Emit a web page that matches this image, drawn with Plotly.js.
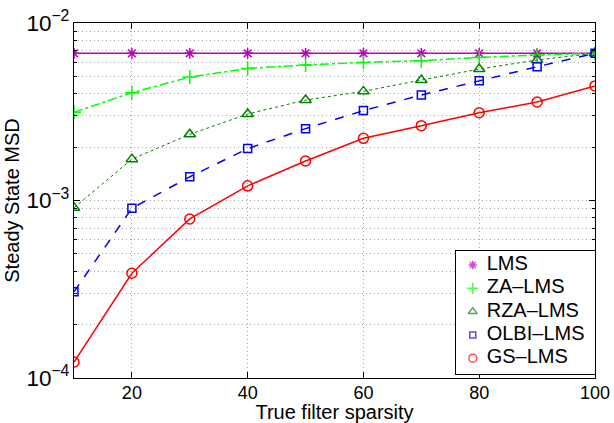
<!DOCTYPE html>
<html>
<head>
<meta charset="utf-8">
<script src="https://cdn.plot.ly/plotly-3.0.1.min.js"></script>
<style>html,body{margin:0;padding:0;background:#fff;}#chart{width:614px;height:423px;}</style>
</head>
<body>
<div id="chart"></div>
<script>
const sparsity = [10, 20, 30, 40, 50, 60, 70, 80, 90, 100];
const lms    = [6.75e-3, 6.75e-3, 6.75e-3, 6.75e-3, 6.75e-3, 6.75e-3, 6.75e-3, 6.75e-3, 6.75e-3, 6.75e-3];
const zaLms  = [3.14e-3, 4.05e-3, 4.96e-3, 5.55e-3, 5.8e-3, 6.0e-3, 6.13e-3, 6.4e-3, 6.6e-3, 6.75e-3];
const rzaLms = [9.1e-4, 1.71e-3, 2.36e-3, 3.07e-3, 3.68e-3, 4.12e-3, 4.77e-3, 5.5e-3, 6.19e-3, 6.75e-3];
const olbiLms= [3.06e-4, 9.04e-4, 1.36e-3, 1.96e-3, 2.54e-3, 3.21e-3, 3.93e-3, 4.73e-3, 5.67e-3, 6.75e-3];
const gsLms  = [1.23e-4, 3.89e-4, 7.87e-4, 1.21e-3, 1.67e-3, 2.24e-3, 2.64e-3, 3.12e-3, 3.59e-3, 4.42e-3];
const names  = ['LMS', 'ZA\u2013LMS', 'RZA\u2013LMS', 'OLBI\u2013LMS', 'GS\u2013LMS'];
const xTicks = [20, 40, 60, 80, 100];

const series = [lms, zaLms, rzaLms, olbiLms, gsLms];
const colors = ['#bf00bf', '#00ff00', '#008000', '#0000ff', '#ff0000'];
const lineDash = ['solid', 'dashdot', 'dot', 'dash', 'solid'];
const lineWidth = [1.5, 1.5, 1, 1.5, 1.5];
const symbols = ['asterisk-open', 'cross-thin-open', 'triangle-up-open', 'square-open', 'circle-open'];
const sizes = [9, 10, 10, 8, 10];

const ff = 'Liberation Sans, Arial, sans-serif';
const traces = [];
series.forEach((s, i) => {
  traces.push({
    x: sparsity, y: s, type: 'scatter', mode: 'lines+markers', showlegend: false,
    xaxis: 'x', yaxis: 'y',
    line: {color: colors[i], dash: lineDash[i], width: lineWidth[i]},
    marker: {symbol: symbols[i], size: sizes[i], color: colors[i], line: {color: colors[i], width: 1.5}},
    name: names[i]
  });
});
// custom legend drawn in an inset subplot (x2/y2), rows spaced like the reference
const rowPitch = 23.3, rowTop = 14, keyX = 17, labelX = 31;
const rows = names.map((_, i) => rowTop + i * rowPitch);
traces.push({
  x: names.map(() => keyX), y: rows, type: 'scatter', mode: 'markers',
  xaxis: 'x2', yaxis: 'y2', showlegend: false, hoverinfo: 'skip',
  marker: {symbol: symbols, size: sizes.map(s => s - 2), color: colors, line: {color: colors, width: 1.5}}
});
traces.push({
  x: names.map(() => labelX), y: rows, type: 'scatter', mode: 'text',
  xaxis: 'x2', yaxis: 'y2', showlegend: false, hoverinfo: 'skip',
  text: names, textposition: 'middle right',
  textfont: {family: ff, size: 20, color: '#000'}
});

const layout = {
  width: 614, height: 423,
  margin: {l: 74, r: 19, t: 23, b: 45},
  paper_bgcolor: '#fff', plot_bgcolor: '#fff',
  font: {family: ff, size: 18, color: '#000'},
  showlegend: false,
  xaxis: {
    range: [10, 100], tickvals: xTicks, ticktext: xTicks.map(String),
    ticks: 'inside', ticklen: 6, tickcolor: '#000', mirror: 'ticks',
    showline: true, linecolor: '#000', linewidth: 1, ticklabelstandoff: -2,
    showgrid: true, gridcolor: '#a8a8a8', griddash: '1px,3px', gridwidth: 1,
    zeroline: false, tickfont: {family: ff, size: 18},
    title: {text: 'True filter sparsity', font: {family: ff, size: 20}, standoff: 2}
  },
  yaxis: {
    type: 'log', range: [-4, -2], dtick: 1, exponentformat: 'power',
    ticks: 'inside', ticklen: 6, tickcolor: '#000', mirror: 'ticks',
    showline: true, linecolor: '#000', linewidth: 1,
    showgrid: true, gridcolor: '#a8a8a8', griddash: '1px,3px', gridwidth: 1,
    minor: {dtick: 'D1', showgrid: true, gridcolor: '#a8a8a8', griddash: '1px,3px', gridwidth: 1,
            ticks: 'inside', ticklen: 3, tickcolor: '#000'},
    zeroline: false, tickfont: {family: ff, size: 18},
    title: {text: 'Steady State MSD', font: {family: ff, size: 20}, standoff: 1}
  },
  xaxis2: {
    domain: [0.733, 1], anchor: 'y2', range: [0, 140], fixedrange: true,
    showline: true, mirror: true, linecolor: '#000', linewidth: 1,
    showgrid: false, zeroline: false, showticklabels: false, ticks: ''
  },
  yaxis2: {
    domain: [0.0113, 0.3577], anchor: 'x2', range: [123, 0], fixedrange: true,
    showline: true, mirror: true, linecolor: '#000', linewidth: 1,
    showgrid: false, zeroline: false, showticklabels: false, ticks: ''
  }
};

Plotly.newPlot('chart', traces, layout, {displayModeBar: false, staticPlot: true});
</script>
</body>
</html>
